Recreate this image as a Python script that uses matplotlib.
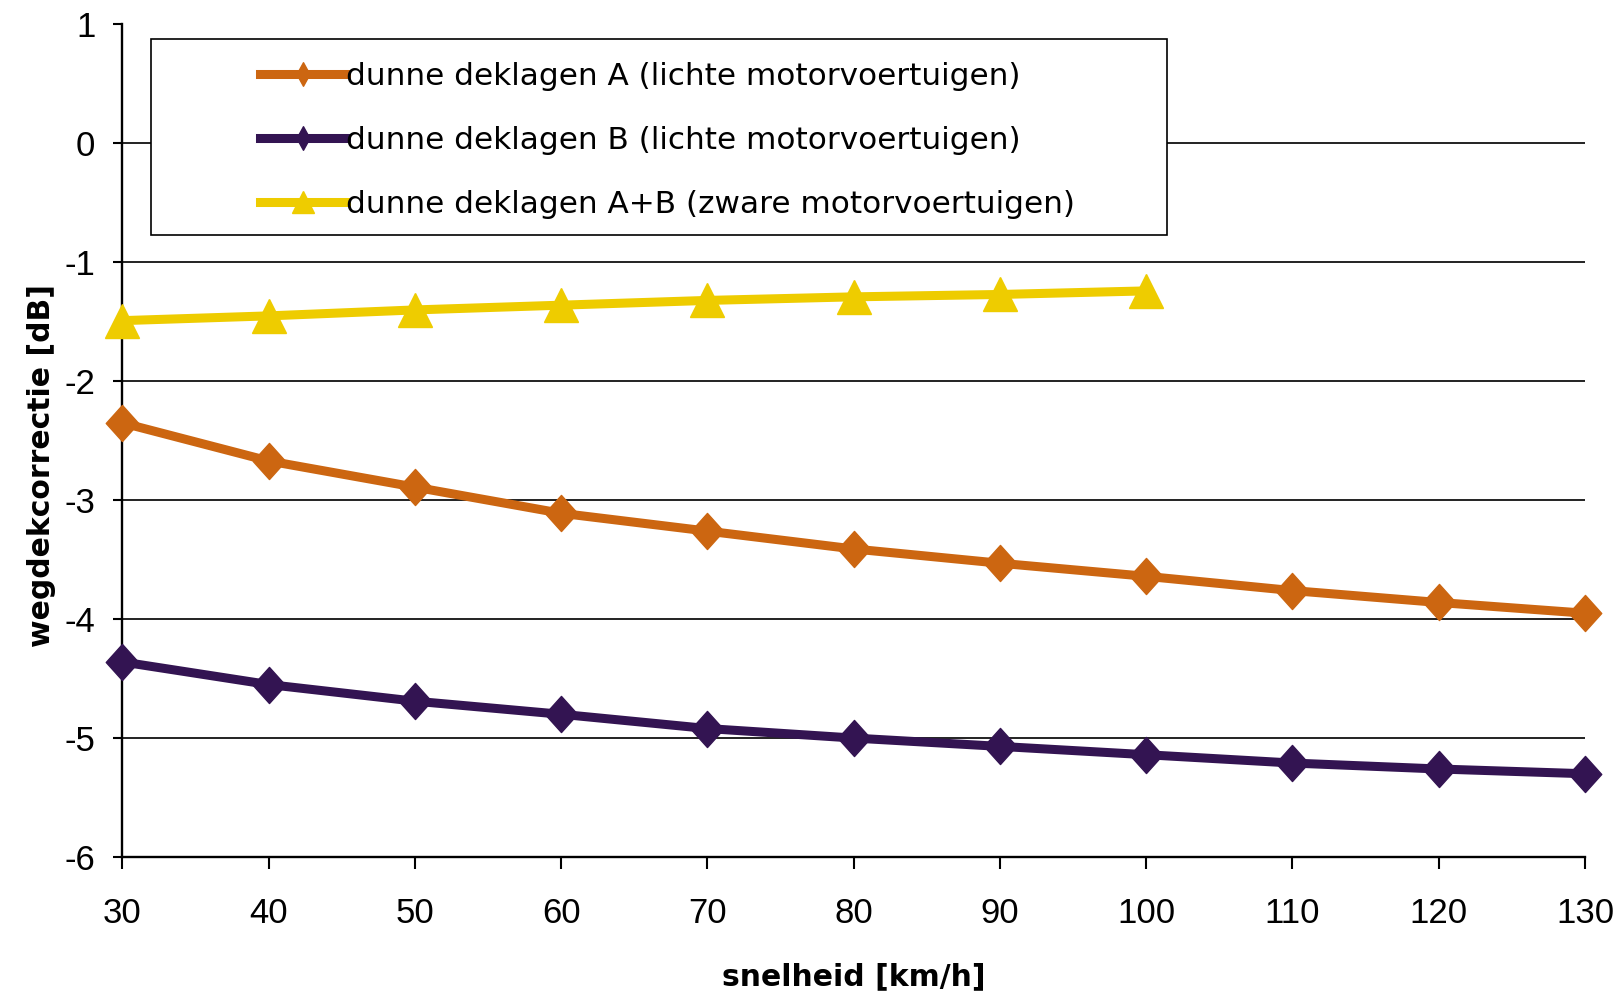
import matplotlib
matplotlib.use("Agg")
import matplotlib.pyplot as plt
from matplotlib import font_manager
from matplotlib.path import Path
from matplotlib.patches import Rectangle

# ---- data ----
speed = [30, 40, 50, 60, 70, 80, 90, 100, 110, 120, 130]
deklaag_A_licht = [-2.35, -2.67, -2.89, -3.11, -3.26, -3.41, -3.53, -3.64, -3.76, -3.86, -3.95]
deklaag_B_licht = [-4.36, -4.55, -4.69, -4.80, -4.92, -5.00, -5.07, -5.14, -5.21, -5.26, -5.30]
speed_zwaar = [30, 40, 50, 60, 70, 80, 90, 100]
deklaag_AB_zwaar = [-1.49, -1.45, -1.40, -1.36, -1.32, -1.29, -1.27, -1.24]

labels = ["dunne deklagen A (lichte motorvoertuigen)",
          "dunne deklagen B (lichte motorvoertuigen)",
          "dunne deklagen A+B (zware motorvoertuigen)"]
xticks = [30, 40, 50, 60, 70, 80, 90, 100, 110, 120, 130]
yticks = [-6, -5, -4, -3, -2, -1, 0, 1]
xlabel = "snelheid [km/h]"
ylabel = "wegdekcorrectie [dB]"

c_orange = "#CC6611"
c_purple = "#331452"
c_yellow = "#EECC00"

names = {f.name for f in font_manager.fontManager.ttflist}
if "Liberation Sans Narrow" in names:
    tick_font, tick_size = "Liberation Sans Narrow", 26
else:
    tick_font, tick_size = "Liberation Sans", 25

diamond = Path([(0, 1), (0.9, 0), (0, -1), (-0.9, 0), (0, 1)],
               [Path.MOVETO, Path.LINETO, Path.LINETO, Path.LINETO, Path.CLOSEPOLY])
thin_diamond = Path([(0, 1), (0.55, 0), (0, -1), (-0.55, 0), (0, 1)],
                    [Path.MOVETO, Path.LINETO, Path.LINETO, Path.LINETO, Path.CLOSEPOLY])

fig = plt.figure(figsize=(16.19, 9.91), dpi=100)
ax = fig.add_axes([0.07566, 0.13522, 0.90334, 0.84006])

lw = 6.5
ax.plot(speed, deklaag_A_licht, color=c_orange, lw=lw, marker=diamond, ms=26,
        mec=c_orange, mfc=c_orange, clip_on=False, zorder=4, label=labels[0])
ax.plot(speed, deklaag_B_licht, color=c_purple, lw=lw, marker=diamond, ms=26,
        mec=c_purple, mfc=c_purple, clip_on=False, zorder=4, label=labels[1])
ax.plot(speed_zwaar, deklaag_AB_zwaar, color=c_yellow, lw=lw, marker="^", ms=24.5,
        mec=c_yellow, mfc=c_yellow, clip_on=False, zorder=4, label=labels[2])

ax.set_xlim(30, 130)
ax.set_ylim(-6, 1)
ax.set_xticks(xticks)
ax.set_yticks(yticks)
ax.set_xticklabels([str(v) for v in xticks], fontfamily=tick_font, fontsize=tick_size)
ax.set_yticklabels([str(v) for v in yticks], fontfamily=tick_font, fontsize=tick_size)

for s in ["top", "right"]:
    ax.spines[s].set_visible(False)
for s in ["left", "bottom"]:
    ax.spines[s].set_linewidth(1.7)
    ax.spines[s].set_color("black")
ax.tick_params(axis="x", direction="out", length=8.5, width=1.5, pad=20, colors="black")
ax.tick_params(axis="y", direction="out", length=6.5, width=1.5, pad=13, colors="black")

ax.set_axisbelow(True)
ax.grid(axis="y", color="#111111", lw=1.3)
for tick_val, gl in zip(ax.get_yticks(), ax.yaxis.get_gridlines()):
    if tick_val in (1, -6):
        gl.set_visible(False)

ax.set_xlabel(xlabel, fontfamily="DejaVu Sans", fontweight="bold", fontsize=21.5, va="baseline")
ax.xaxis.set_label_coords(0.5, -0.1538)
ax.set_ylabel(ylabel, fontfamily="DejaVu Sans", fontweight="bold", fontsize=21.5, va="baseline")
ax.yaxis.set_label_coords(-0.0496, 0.4703)

# legend frame
rect = Rectangle((0.0193, 0.7467), 0.6947, 0.2356, transform=ax.transAxes,
                 facecolor="white", edgecolor="black", lw=1.2, zorder=3, clip_on=False)
ax.add_patch(rect)

leg = ax.legend(loc="upper left", bbox_to_anchor=(0.094, 0.9555), frameon=False,
                borderpad=0, borderaxespad=0, handlelength=2.75, handletextpad=0.0,
                labelspacing=1.13, markerscale=0.63,
                prop={"family": "DejaVu Sans", "size": 22.4})
leg.set_zorder(6)
for h in leg.legend_handles[:2]:
    h.set_marker(thin_diamond)
    h.set_markersize(17)
for t in leg.get_texts():
    t.set_color("black")

fig.savefig("out.png", dpi=100)
